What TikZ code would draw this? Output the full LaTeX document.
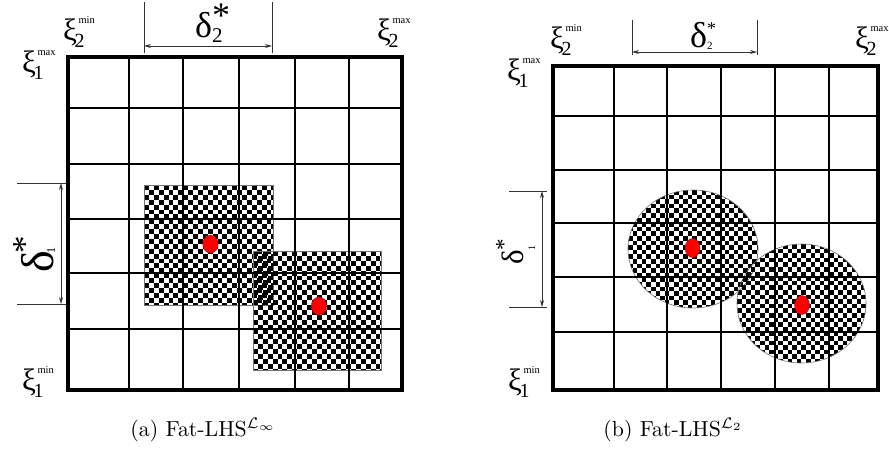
\documentclass[tikz,border=0pt]{standalone}
\usepackage{fontspec}
\usepackage{graphicx}
\newfontfamily\lsf{Liberation Serif}
\usetikzlibrary{arrows.meta}
\newcommand\checkers[5]{%
  \foreach \i in {0,...,#3}{\foreach \j in {0,...,#4}{%
    \pgfmathtruncatemacro\pp{mod(\i+\j,2)}%
    \ifnum\pp=0 \fill (#1+\i*#5,#2+\j*#5) rectangle ++(#5,#5);\fi}}}
\newcommand\xilab[2]{{\fontsize{31}{31}\selectfont ξ}\kern-2.5pt\rlap{\raisebox{-7pt}{\fontsize{20}{20}\selectfont #1}}\kern4pt\raisebox{17pt}{\fontsize{10.5}{10.5}\selectfont #2}}
\begin{document}
\begin{tikzpicture}[x=1pt,y=-1pt,
  gridin/.style={line width=2.8pt},
  gridout/.style={line width=4.5pt, line join=miter},
  dimline/.style={line width=0.7pt, draw=black!80},
  dimarrow/.style={line width=0.7pt, draw=black!80, {Stealth[length=7pt,width=4pt]}-{Stealth[length=7pt,width=4pt]}},
  regionedge/.style={draw=black!55, line width=0.6pt},
  sample/.style={fill=red, draw=red!60!black, line width=0.3pt},
  lab/.style={inner sep=0pt, anchor=base west, font=\lsf},
  caption/.style={inner sep=0pt, anchor=base west, scale=2.18},
]
\useasboundingbox (0,0) rectangle (889,453);

% ---------------- left panel ----------------
\begin{scope}
  \clip (144,185) rectangle (273,305);
  \checkers{144}{185}{26}{24}{4.9}
\end{scope}
\draw[regionedge] (144,185) rectangle (273,305);
\begin{scope}
  \clip (253,251) rectangle (381,370);
  \checkers{253}{251}{26}{24}{4.9}
\end{scope}
\draw[regionedge] (253,251) rectangle (381,370);

\foreach \x in {129,183,239,295,349} \draw[gridin] (\x,57) -- (\x,390);
\foreach \y in {108,164,219,273,329} \draw[gridin] (68,\y) -- (402,\y);
\draw[gridout] (68,57) rectangle (402,390);

\fill[sample] (210.5,244) ellipse [x radius=7.8pt, y radius=9pt];
\fill[sample] (319,306) ellipse [x radius=7.8pt, y radius=9pt];

% dimension delta2 (left)
\coordinate (la1) at (144,2); \coordinate (la2) at (144,53);
\coordinate (lb1) at (272,2); \coordinate (lb2) at (272,53);
\coordinate (lh1) at (144,46); \coordinate (lh2) at (272,46);
\draw[dimline] (la1) -- (la2);
\draw[dimline] (lb1) -- (lb2);
\draw[dimarrow] (lh1) -- (lh2);
\node[lab] (ld2) at (195,37) {{\fontsize{36}{36}\selectfont δ}\rlap{\raisebox{-5pt}{\fontsize{21}{21}\selectfont 2}}\raisebox{10pt}{\fontsize{36}{36}\selectfont *}};

% dimension delta1 (left)
\coordinate (lc1) at (17,183); \coordinate (lc2) at (66,183);
\coordinate (ld1) at (17,304); \coordinate (ldd) at (66,304);
\coordinate (lv1) at (61,183); \coordinate (lv2) at (61,304);
\draw[dimline] (lc1) -- (lc2);
\draw[dimline] (ld1) -- (ldd);
\draw[dimarrow] (lv1) -- (lv2);
\node[lab, rotate=90] (ld1lab) at (53,273) {{\fontsize{46}{46}\selectfont δ}\kern-2pt\rlap{\raisebox{-2pt}{\fontsize{12}{12}\selectfont 1}}\raisebox{17pt}{\fontsize{35}{35}\selectfont *}};

\node[lab] (lx2min) at (63,40) {\xilab{2}{min}};
\node[lab] (lx2max) at (377,40) {\xilab{2}{max}};
\node[lab] (lx1max) at (22,72) {\xilab{1}{max}};
\node[lab] (lx1min) at (22,390) {\xilab{1}{min}};

\node[caption] (capa) at (130,436.5) {(a)\ Fat-LHS$^{\mathcal{L}_\infty}$};

% ---------------- right panel ----------------
\begin{scope}
  \clip (693,249) ellipse [x radius=65pt, y radius=59pt];
  \checkers{628}{190}{28}{26}{4.6}
\end{scope}
\draw[regionedge] (693,249) ellipse [x radius=65pt, y radius=59pt];
\begin{scope}
  \clip (801.5,303.5) ellipse [x radius=64.5pt, y radius=59.5pt];
  \checkers{737}{244}{28}{26}{4.6}
\end{scope}
\draw[regionedge] (801.5,303.5) ellipse [x radius=64.5pt, y radius=59.5pt];

\foreach \x in {614,667,721,775,829} \draw[gridin] (\x,66) -- (\x,390);
\foreach \y in {116,170,223,277,332} \draw[gridin] (553,\y) -- (878,\y);
\draw[gridout] (553,66) rectangle (878,390);

\fill[sample] (692.5,248) ellipse [x radius=7.5pt, y radius=9.5pt];
\fill[sample] (802,305) ellipse [x radius=7.5pt, y radius=9.5pt];

% dimension delta2 (right)
\coordinate (ra1) at (632,20); \coordinate (ra2) at (632,55);
\coordinate (rb1) at (757,20); \coordinate (rb2) at (757,55);
\coordinate (rh1) at (632,52); \coordinate (rh2) at (757,52);
\draw[dimline] (ra1) -- (ra2);
\draw[dimline] (rb1) -- (rb2);
\draw[dimarrow] (rh1) -- (rh2);
\node[lab] (rd2) at (690,47) {{\fontsize{36}{36}\selectfont δ}\rlap{\raisebox{-2pt}{\fontsize{11}{11}\selectfont 2}}\raisebox{13pt}{\fontsize{18}{18}\selectfont *}};

% dimension delta1 (right)
\coordinate (rc1) at (509,191); \coordinate (rc2) at (547,191);
\coordinate (rd1) at (509,307); \coordinate (rdd) at (547,307);
\coordinate (rv1) at (542,191); \coordinate (rv2) at (542,307);
\draw[dimline] (rc1) -- (rc2);
\draw[dimline] (rd1) -- (rdd);
\draw[dimarrow] (rv1) -- (rv2);
\node[lab, rotate=90] (rd1lab) at (523,265) {{\fontsize{31}{31}\selectfont δ}\rlap{\raisebox{-12pt}{\fontsize{10}{10}\selectfont 1}}\raisebox{12pt}{\fontsize{23}{23}\selectfont *}};

\node[lab] (rx2min) at (550,48) {\xilab{2}{min}};
\node[lab] (rx2max) at (855,48) {\xilab{2}{max}};
\node[lab] (rx1max) at (507,80) {\xilab{1}{max}};
\node[lab] (rx1min) at (508,390) {\xilab{1}{min}};

\node[caption] (capb) at (603,436.5) {(b)\ Fat-LHS$^{\mathcal{L}_2}$};
\end{tikzpicture}
\end{document}
